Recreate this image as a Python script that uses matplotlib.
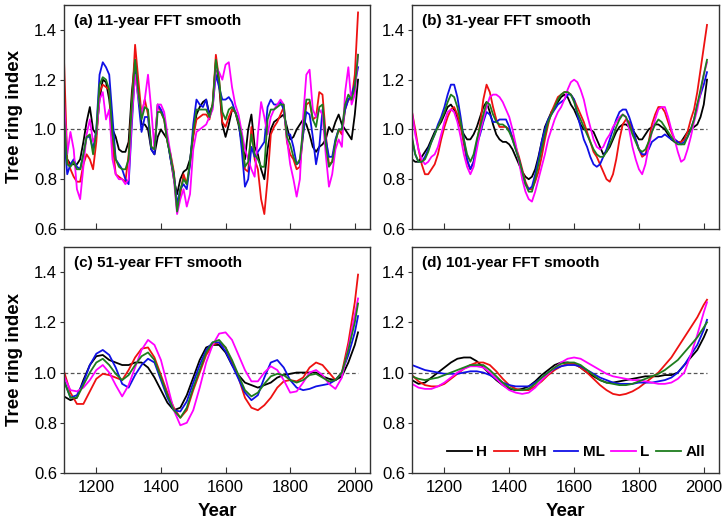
import matplotlib
matplotlib.use("Agg")
import matplotlib.pyplot as plt
import numpy as np

plt.rcParams['font.family'] = ['Liberation Sans', 'DejaVu Sans']

names = ['H', 'MH', 'ML', 'L', 'All']
colors = ['black', '#ee1111', '#1010e6', '#ff00ff', '#1e7d1e']

# ---- (a) 11-year FFT smooth, every 10 years ----
yr_a = list(range(1100, 2011, 10))
a_H = [0.93, 0.88, 0.86, 0.86, 0.86, 0.88, 0.95, 1.03, 1.09, 1.0,
       0.98, 1.12, 1.2, 1.19, 1.12, 1.0, 0.97, 0.92, 0.91, 0.91,
       0.95, 1.15, 1.28, 1.15, 1.02, 1.02, 1.0, 0.92, 0.9, 0.97,
       1.0, 0.98, 0.96, 0.88, 0.8, 0.74, 0.8, 0.83, 0.84, 0.88,
       0.98, 1.06, 1.09, 1.11, 1.12, 1.06, 1.1, 1.27, 1.18, 1.02,
       0.97, 1.02, 1.08, 1.07, 1.02, 0.95, 0.88, 1.0, 1.06, 0.93,
       0.9, 0.84, 0.8, 0.92, 1.0, 1.03, 1.04, 1.05, 1.06, 1.01,
       0.96, 0.97, 1.0, 1.02, 1.04, 1.02, 0.98, 0.93, 0.91, 0.93,
       0.94, 0.96, 1.01, 0.99, 1.03, 1.06, 1.02, 1.0, 0.98, 0.96,
       1.06, 1.2]
a_MH = [1.28, 0.88, 0.84, 0.81, 0.79, 0.79, 0.86, 0.9, 0.88, 0.84,
        0.95, 1.15, 1.18, 1.17, 1.16, 0.95, 0.82, 0.81, 0.8, 0.79,
        0.9, 1.1, 1.34, 1.2, 1.06, 1.12, 1.06, 0.93, 0.92, 1.1,
        1.07, 1.04, 0.95, 0.9, 0.83, 0.68, 0.74, 0.82, 0.78, 0.86,
        0.97, 1.04, 1.05, 1.06, 1.06, 1.04, 1.1, 1.3, 1.2, 1.03,
        1.01, 1.05, 1.08, 1.07, 1.03, 0.98, 0.84, 0.83, 1.01, 0.88,
        0.84, 0.72, 0.66, 0.8, 0.98, 1.01, 1.03, 1.06, 1.09, 0.95,
        0.9, 0.88, 0.84, 0.85, 0.98, 1.1, 1.11, 1.04, 1.05, 1.15,
        1.14, 0.98, 0.86, 0.87, 0.95, 1.0, 0.98, 1.08, 1.12, 1.12,
        1.22, 1.47]
a_ML = [0.98, 0.82, 0.86, 0.88, 0.85, 0.84, 0.9, 0.97, 0.97, 0.92,
        1.0, 1.22, 1.27, 1.25, 1.22, 1.05, 0.88, 0.86, 0.84, 0.8,
        0.78, 1.02, 1.24, 1.12, 0.99, 1.05, 1.05, 0.92, 0.9, 1.1,
        1.08, 1.05, 0.96, 0.88, 0.82, 0.7, 0.76, 0.78, 0.76, 0.86,
        1.02, 1.12, 1.1, 1.09, 1.12, 1.05, 1.09, 1.22, 1.17, 1.12,
        1.12, 1.13, 1.11, 1.07, 1.04, 0.92, 0.77, 0.8, 0.93, 0.89,
        0.91, 0.93, 0.95, 1.09, 1.12, 1.1, 1.1, 1.11, 1.08, 0.98,
        0.98, 0.93, 0.86, 0.87, 0.98, 1.07, 1.06, 0.97, 0.86, 0.93,
        1.08, 0.96, 0.89, 0.89, 0.96, 1.0, 1.0, 1.08, 1.12, 1.14,
        1.18, 1.25]
a_L = [1.12, 0.9, 0.99, 0.92, 0.76, 0.72, 0.85, 0.98, 1.04, 0.95,
       0.98, 1.12, 1.15, 1.04, 1.08, 0.88, 0.82, 0.8, 0.8, 0.78,
       0.8, 1.05, 1.22, 1.13, 1.06, 1.12, 1.22, 1.08, 0.92, 1.1,
       1.1, 1.07, 0.98, 0.9, 0.8, 0.66, 0.72, 0.76, 0.69, 0.74,
       0.92, 0.99, 1.0, 1.01, 1.02, 1.05, 1.08, 1.25, 1.23, 1.2,
       1.26, 1.27, 1.17, 1.1, 1.06, 0.99, 0.92, 0.88, 0.84, 0.81,
       0.98, 1.11, 1.05, 0.98, 1.05, 1.08, 1.1, 1.12, 1.1, 0.96,
       0.86, 0.8, 0.73, 0.8, 1.05, 1.22, 1.24, 1.08, 1.05, 1.08,
       1.06, 0.9, 0.77, 0.82, 0.92, 0.96, 0.93, 1.15, 1.25, 1.1,
       1.14, 1.3]
a_All = [1.05, 0.86, 0.85, 0.87, 0.84, 0.84, 0.9, 0.97, 0.98, 0.9,
         0.99, 1.18, 1.21, 1.2, 1.16, 0.98, 0.88, 0.85, 0.84, 0.84,
         0.88, 1.1, 1.28, 1.15, 1.04, 1.09, 1.08, 0.93, 0.92, 1.07,
         1.07, 1.04, 0.95, 0.89, 0.82, 0.67, 0.76, 0.8, 0.78, 0.87,
         0.99, 1.08, 1.08, 1.08, 1.08, 1.05, 1.1, 1.28, 1.2, 1.07,
         1.04, 1.08, 1.09, 1.07, 1.03, 0.97, 0.85, 0.87, 0.98, 0.9,
         0.88, 0.85, 0.85, 1.04, 1.08, 1.08, 1.09, 1.1, 1.1, 0.97,
         0.94, 0.89, 0.86, 0.88, 1.0, 1.12, 1.12, 1.04, 1.01, 1.09,
         1.1, 0.94, 0.85, 0.87, 0.95, 1.0, 1.0, 1.1, 1.14, 1.12,
         1.17, 1.3]

# ---- (b) 31-year FFT smooth, every 10 years ----
yr_b = list(range(1100, 2011, 10))
b_H = [0.88, 0.87, 0.87, 0.89, 0.91, 0.93, 0.96, 0.99, 1.01, 1.03,
       1.06, 1.09, 1.1, 1.08, 1.04, 1.01, 0.98, 0.96, 0.96, 0.98,
       1.01, 1.05, 1.09, 1.11, 1.07, 1.02, 0.98, 0.96, 0.95, 0.95,
       0.94, 0.92, 0.89, 0.86, 0.83, 0.81, 0.8, 0.81, 0.84, 0.89,
       0.95, 1.01, 1.04, 1.07, 1.09, 1.11, 1.13, 1.14, 1.13, 1.1,
       1.08, 1.05, 1.02, 1.0, 1.0, 1.0, 0.99, 0.96, 0.93, 0.9,
       0.91, 0.93, 0.96, 0.99, 1.01, 1.02, 1.02, 1.01, 1.0, 0.98,
       0.96, 0.96, 0.98, 1.0, 1.01, 1.02, 1.02, 1.01, 1.0, 0.98,
       0.96, 0.95, 0.95, 0.95, 0.97, 0.99, 1.0, 1.01, 1.02, 1.05,
       1.1, 1.2]
b_MH = [1.07, 1.0, 0.92, 0.86, 0.82, 0.82, 0.84, 0.86, 0.9, 0.96,
        1.01, 1.05, 1.08, 1.09, 1.06, 1.01, 0.94, 0.87, 0.84, 0.87,
        0.95, 1.02, 1.12, 1.18, 1.15, 1.09, 1.04, 1.01, 1.01, 1.01,
        1.0, 0.97, 0.93, 0.89, 0.84, 0.79, 0.76, 0.76, 0.79, 0.83,
        0.89, 0.96, 1.02, 1.07, 1.1, 1.13, 1.14, 1.15, 1.15, 1.14,
        1.12, 1.09, 1.06, 1.03, 0.99, 0.95, 0.91, 0.89, 0.86, 0.83,
        0.8, 0.79, 0.82, 0.88, 0.96, 1.02, 1.04, 1.03, 1.0, 0.96,
        0.92, 0.89, 0.9, 0.95, 1.02, 1.06, 1.09, 1.09, 1.07, 1.03,
        0.99, 0.96, 0.95, 0.95, 0.96, 0.99, 1.04, 1.08, 1.15, 1.24,
        1.33, 1.42]
b_ML = [0.96, 0.9, 0.87, 0.87, 0.89, 0.92, 0.95, 0.98, 1.02, 1.05,
        1.09, 1.14, 1.18, 1.18, 1.13, 1.05, 0.96, 0.88, 0.84, 0.87,
        0.94, 0.98, 1.03, 1.07, 1.06, 1.03, 1.03, 1.04, 1.04, 1.04,
        1.01, 0.96, 0.92, 0.88, 0.83, 0.78, 0.76, 0.77, 0.82, 0.88,
        0.95, 1.0, 1.04, 1.06, 1.08, 1.1, 1.11, 1.12, 1.14, 1.14,
        1.12, 1.06, 1.01, 0.96, 0.93, 0.89, 0.86, 0.85, 0.86, 0.89,
        0.92, 0.96, 1.0, 1.04, 1.07, 1.08, 1.08, 1.05, 1.01, 0.96,
        0.92, 0.9, 0.9, 0.92, 0.95, 0.96, 0.97, 0.97, 0.98, 0.97,
        0.96, 0.96, 0.95, 0.94, 0.95, 0.97, 1.0, 1.04, 1.1, 1.14,
        1.18, 1.23]
b_L = [1.07, 0.98, 0.92, 0.88, 0.86, 0.87, 0.89, 0.9, 0.93, 0.98,
       1.03, 1.07, 1.08, 1.07, 1.03, 0.97, 0.9, 0.85, 0.82, 0.85,
       0.92, 0.99, 1.04, 1.09, 1.13, 1.14, 1.14, 1.13, 1.11, 1.08,
       1.05, 1.0, 0.94, 0.87, 0.8, 0.75, 0.72, 0.71, 0.75, 0.8,
       0.85, 0.9, 0.96, 1.0, 1.04, 1.07, 1.09, 1.12, 1.16, 1.19,
       1.2, 1.19, 1.16, 1.12, 1.06, 1.01, 0.96, 0.93, 0.92, 0.93,
       0.96, 0.98, 1.01, 1.03, 1.05, 1.06, 1.05, 1.0, 0.93, 0.88,
       0.84, 0.82, 0.86, 0.93, 0.99, 1.04, 1.08, 1.09, 1.09, 1.05,
       1.0, 0.96, 0.91, 0.87, 0.88, 0.92, 0.97, 1.03, 1.08, 1.15,
       1.22, 1.27]
b_All = [0.97, 0.9, 0.87, 0.87, 0.88, 0.91, 0.95, 0.98, 1.01, 1.04,
         1.07, 1.11, 1.14, 1.13, 1.09, 1.03, 0.96, 0.9, 0.87, 0.9,
         0.96, 1.01, 1.06, 1.11, 1.1, 1.06, 1.03, 1.02, 1.02, 1.01,
         0.99, 0.96, 0.92, 0.88, 0.83, 0.78, 0.75, 0.75, 0.8, 0.86,
         0.92, 0.98, 1.03, 1.06, 1.09, 1.12, 1.14, 1.15, 1.15, 1.14,
         1.11, 1.07, 1.04, 1.01, 0.98, 0.95, 0.92, 0.9, 0.89, 0.89,
         0.91, 0.94, 0.97, 1.01, 1.04, 1.06, 1.05, 1.02, 0.98, 0.95,
         0.92, 0.91, 0.92, 0.95, 0.99, 1.02, 1.04, 1.03, 1.01, 0.99,
         0.97, 0.95, 0.94, 0.94, 0.94, 0.97, 1.0, 1.04, 1.1, 1.16,
         1.22, 1.28]

# ---- (c) 51-year FFT smooth, every 20 years ----
yr_c = list(range(1100, 2001, 20)) + [2010]
c_H = [0.905, 0.89, 0.9, 0.97, 1.03, 1.065, 1.07, 1.05, 1.04, 1.03,
       1.03, 1.04, 1.04, 1.02, 0.98, 0.93, 0.88, 0.85, 0.86, 0.91,
       0.98, 1.05, 1.1, 1.11, 1.11, 1.08, 1.03, 0.99, 0.96, 0.95,
       0.94, 0.95, 0.96, 0.98, 0.99, 0.995, 1.0, 1.0, 1.0, 1.0,
       0.985, 0.975, 0.97, 0.985, 1.04, 1.11, 1.16]
c_MH = [1.005, 0.92, 0.875, 0.875, 0.925, 0.975, 0.995, 0.99, 0.98, 0.97,
        1.01, 1.06, 1.095, 1.1, 1.06, 0.99, 0.92, 0.86, 0.82, 0.85,
        0.93, 1.0, 1.07, 1.11, 1.12, 1.1, 1.04, 0.98, 0.9, 0.86,
        0.85, 0.87, 0.9, 0.94, 0.965, 0.97, 0.965, 0.98, 1.02, 1.04,
        1.03, 1.0, 0.97, 1.0, 1.12, 1.28, 1.39]
c_ML = [0.97, 0.9, 0.91, 0.96, 1.03, 1.075, 1.09, 1.07, 1.02, 0.955,
        0.94, 0.99, 1.03, 1.055, 1.04, 0.97, 0.9, 0.85, 0.845, 0.885,
        0.96, 1.03, 1.09, 1.12, 1.12, 1.085, 1.03, 0.975, 0.92, 0.89,
        0.91, 0.98, 1.04, 1.05, 1.02, 0.97, 0.94, 0.93, 0.935, 0.945,
        0.95, 0.955, 0.97, 1.0, 1.07, 1.16, 1.225]
c_L = [0.985, 0.93, 0.925, 0.94, 0.97, 1.01, 1.03, 1.0, 0.95, 0.905,
       0.95, 1.02, 1.09, 1.13, 1.11, 1.05, 0.95, 0.85, 0.79, 0.8,
       0.85, 0.94, 1.04, 1.11, 1.155, 1.16, 1.13, 1.07, 1.01, 0.965,
       0.965, 1.0, 1.025, 1.01, 0.97, 0.92, 0.925, 0.96, 1.0, 1.01,
       0.99, 0.955, 0.935, 0.98, 1.1, 1.23, 1.295]
c_All = [0.965, 0.9, 0.9, 0.95, 1.0, 1.04, 1.055, 1.03, 0.995, 0.97,
         0.99, 1.03, 1.065, 1.08, 1.05, 0.98, 0.91, 0.85, 0.82, 0.86,
         0.94, 1.01, 1.08, 1.12, 1.13, 1.1, 1.05, 0.99, 0.93, 0.905,
         0.92, 0.955, 0.985, 0.995, 0.99, 0.97, 0.96, 0.97, 0.99, 0.995,
         0.98, 0.965, 0.97, 1.0, 1.09, 1.2, 1.275]

# ---- (d) 101-year FFT smooth, every 20 years ----
yr_d = list(range(1100, 2001, 20)) + [2010]
d_H = [0.97, 0.955, 0.96, 0.98, 1.0, 1.02, 1.04, 1.055, 1.06, 1.06,
       1.045, 1.02, 0.995, 0.97, 0.95, 0.935, 0.93, 0.935, 0.945, 0.965,
       0.99, 1.01, 1.03, 1.04, 1.04, 1.035, 1.02, 1.0, 0.985, 0.97,
       0.96, 0.96, 0.965, 0.97, 0.975, 0.98, 0.985, 0.985, 0.985, 0.99,
       0.99, 1.0, 1.03, 1.06, 1.09, 1.14, 1.17]
d_MH = [0.99, 0.965, 0.95, 0.945, 0.945, 0.955, 0.975, 0.995, 1.015, 1.03,
        1.04, 1.04, 1.03, 1.005, 0.975, 0.95, 0.935, 0.93, 0.93, 0.945,
        0.965, 0.99, 1.01, 1.025, 1.035, 1.035, 1.02, 1.0, 0.975, 0.95,
        0.93, 0.915, 0.91, 0.915, 0.925, 0.94, 0.96, 0.98, 1.0, 1.03,
        1.06, 1.1, 1.14, 1.18, 1.22, 1.27, 1.29]
d_ML = [1.03, 1.02, 1.01, 1.005, 1.0, 0.995, 0.995, 0.995, 1.0, 1.005,
        1.005, 1.0, 0.99, 0.975, 0.96, 0.95, 0.945, 0.945, 0.945, 0.96,
        0.98, 1.0, 1.015, 1.025, 1.03, 1.03, 1.025, 1.01, 0.995, 0.98,
        0.97, 0.96, 0.955, 0.955, 0.955, 0.96, 0.96, 0.96, 0.965, 0.97,
        0.98, 1.0, 1.03, 1.07, 1.11, 1.17, 1.21]
d_L = [0.955, 0.94, 0.935, 0.935, 0.945, 0.96, 0.98, 1.0, 1.015, 1.025,
       1.025, 1.02, 1.0, 0.975, 0.95, 0.93, 0.92, 0.915, 0.92, 0.94,
       0.97, 0.995, 1.02, 1.04, 1.055, 1.06, 1.055, 1.04, 1.025, 1.01,
       0.995, 0.985, 0.98, 0.975, 0.97, 0.97, 0.965, 0.96, 0.955, 0.955,
       0.96, 0.975, 1.0, 1.07, 1.15, 1.24, 1.28]
d_All = [0.985, 0.975, 0.97, 0.975, 0.98, 0.99, 1.0, 1.01, 1.02, 1.03,
         1.03, 1.03, 1.01, 0.985, 0.96, 0.94, 0.93, 0.93, 0.935, 0.955,
         0.98, 1.0, 1.02, 1.035, 1.04, 1.04, 1.03, 1.01, 0.99, 0.97,
         0.96, 0.955, 0.95, 0.95, 0.955, 0.965, 0.975, 0.985, 0.995, 1.01,
         1.03, 1.05, 1.08, 1.11, 1.14, 1.18, 1.2]

panels = [
    ('(a) 11-year FFT smooth', yr_a, [a_H, a_MH, a_ML, a_L, a_All]),
    ('(b) 31-year FFT smooth', yr_b, [b_H, b_MH, b_ML, b_L, b_All]),
    ('(c) 51-year FFT smooth', yr_c, [c_H, c_MH, c_ML, c_L, c_All]),
    ('(d) 101-year FFT smooth', yr_d, [d_H, d_MH, d_ML, d_L, d_All]),
]

fig = plt.figure(figsize=(7.24, 5.22), dpi=100)
W, H = 724, 522
boxes = [(64, 5, 370, 229), (412, 5, 719, 229),
         (64, 247, 370, 473), (412, 247, 719, 473)]

for i, (title, yrs, series) in enumerate(panels):
    x0, y0, x1, y1 = boxes[i]
    ax = fig.add_axes([x0 / W, 1 - y1 / H, (x1 - x0) / W, (y1 - y0) / H])
    ax.hlines(1.0, 1100, 2010, colors='#555555', linestyles=(0, (3, 2)), linewidth=0.9)
    for vals, c, n in zip(series, colors, names):
        ax.plot(yrs, vals, color=c, lw=1.3, label=n)
    ax.set_xlim(1100, 2047)
    ax.set_ylim(0.6, 1.5)
    ax.set_xticks([1200, 1400, 1600, 1800, 2000])
    ax.set_yticks([0.6, 0.8, 1.0, 1.2, 1.4])
    ax.yaxis.set_major_formatter(plt.FormatStrFormatter('%.1f'))
    ax.tick_params(axis='x', direction='in', length=4, width=0.8, labelsize=12, pad=5, color='#333333')
    ax.tick_params(axis='y', direction='out', length=3, width=0.8, labelsize=12, pad=2, color='#333333')
    for s in ax.spines.values():
        s.set_color('#333333')
        s.set_linewidth(1.0)
    ax.text(0.033, 0.93, title, transform=ax.transAxes, fontsize=11,
            fontweight='bold', va='center', ha='left')
    if i < 2:
        ax.tick_params(axis='x', labelbottom=False)
    else:
        ax.set_xlabel('Year', fontsize=13.5, fontweight='bold', labelpad=6)
    if i % 2 == 0:
        ax.set_ylabel('Tree ring index', fontsize=13.5, fontweight='bold', labelpad=8)
    if i == 3:
        ax.legend(loc='lower right', ncol=5, frameon=False, handlelength=1.6,
                  handletextpad=0.3, columnspacing=0.45, borderaxespad=0.5,
                  prop={'weight': 'bold', 'size': 11})

fig.savefig('out.png', dpi=100)
